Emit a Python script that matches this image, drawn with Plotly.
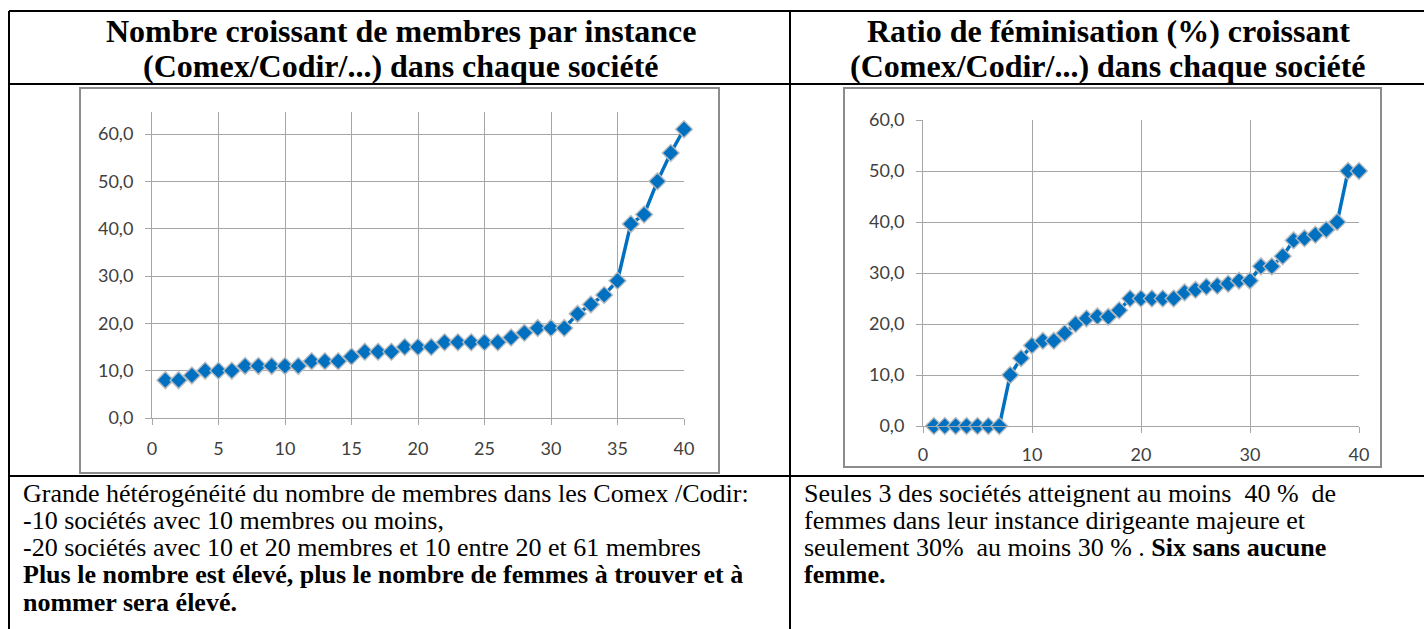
import plotly.graph_objects as go

W, H = 1424, 629

# ---- data ----
companies = list(range(1, 41))
members = [8, 8, 9, 10, 10, 10, 11, 11, 11, 11, 11, 12, 12, 12, 13, 14, 14, 14, 15, 15,
           15, 16, 16, 16, 16, 16, 17, 18, 19, 19, 19, 22, 24, 26, 29, 41, 43, 50, 56, 61]
fem_ratio = [0, 0, 0, 0, 0, 0, 0, 10, 13.3, 15.8, 16.7, 16.7, 18.2, 20, 21.1, 21.5, 21.4, 22.7, 25, 25,
             25, 25, 25, 26.2, 26.7, 27.3, 27.5, 27.9, 28.5, 28.5, 31.3, 31.3, 33.3, 36.4, 36.8, 37.5, 38.5, 40, 50, 50]

left_title = ["Nombre croissant de membres par instance", "(Comex/Codir/...) dans chaque société"]
right_title = ["Ratio de féminisation (%) croissant", "(Comex/Codir/...) dans chaque société"]
left_text = [
    "Grande hétérogénéité du nombre de membres dans les Comex /Codir:",
    "-10 sociétés avec 10 membres ou moins,",
    "-20 sociétés avec 10 et 20 membres et 10 entre 20 et 61 membres",
    "<b>Plus le nombre est élevé, plus le nombre de femmes à trouver et à</b>",
    "<b>nommer sera élevé.</b>",
]
right_text = [
    "Seules 3 des sociétés atteignent au moins \u00a040 % \u00a0de",
    "femmes dans leur instance dirigeante majeure et",
    "seulement 30% \u00a0au moins 30 % . <b>Six sans aucune</b>",
    "<b>femme.</b>",
]

BLUE = "#0070C0"
GRID = "#A6A6A6"
TICKFONT = dict(family="Lato, Open Sans, sans-serif", size=18, color="#404040")


def px(x):
    return max(0.0, min(1.0, x / W))


def py(y):
    return max(0.0, min(1.0, 1 - y / H))


fig = go.Figure()

marker = dict(symbol="diamond", size=13, color=BLUE, line=dict(color="rgba(190,190,190,0.9)", width=1.5))
fig.add_trace(go.Scatter(x=companies, y=members, mode="lines+markers", line=dict(color=BLUE, width=3.5),
                         marker=marker, xaxis="x", yaxis="y", showlegend=False, cliponaxis=False))
fig.add_trace(go.Scatter(x=companies, y=fem_ratio, mode="lines+markers", line=dict(color=BLUE, width=3.5),
                         marker=marker, xaxis="x2", yaxis="y2", showlegend=False, cliponaxis=False))

ax_common = dict(showgrid=True, gridcolor=GRID, gridwidth=1, zeroline=False, showline=True,
                 linecolor=GRID, linewidth=1, ticks="outside", ticklen=6, tickcolor=GRID,
                 tickfont=TICKFONT, fixedrange=True, automargin=False)

# left chart: 0 at y=418, 60 at y=134, top at y=112
ymax_left = 60 * (418 - 112) / (418 - 134)
fig.update_layout(
    xaxis=dict(domain=[px(152), px(684)], range=[0, 40], dtick=5, tick0=0, anchor="y",
               ticklabelstandoff=8, **ax_common),
    yaxis=dict(domain=[py(418), py(112)], range=[0, ymax_left], tickvals=[0, 10, 20, 30, 40, 50, 60],
               tickformat=".1f", anchor="x", ticklabelstandoff=8, **ax_common),
    xaxis2=dict(domain=[px(923), px(1359)], range=[0, 40], dtick=10, tick0=0, anchor="y2",
                ticklabelstandoff=6, **ax_common),
    yaxis2=dict(domain=[py(426), py(120)], range=[0, 60], tickvals=[0, 10, 20, 30, 40, 50, 60],
                tickformat=".1f", anchor="x2", ticklabelstandoff=8, **ax_common),
)

shapes = []
BLACK = dict(color="black", width=2)
# table lines
shapes.append(dict(type="line", xref="paper", yref="paper", x0=px(9), x1=1, y0=py(11), y1=py(11), line=BLACK))
shapes.append(dict(type="line", xref="paper", yref="paper", x0=px(9), x1=1, y0=py(84), y1=py(84), line=BLACK))
shapes.append(dict(type="line", xref="paper", yref="paper", x0=px(9), x1=1, y0=py(476), y1=py(476), line=BLACK))
shapes.append(dict(type="line", xref="paper", yref="paper", x0=px(9), x1=px(9), y0=py(11), y1=0, line=BLACK))
shapes.append(dict(type="line", xref="paper", yref="paper", x0=px(790), x1=px(790), y0=py(11), y1=0, line=BLACK))
# chart frames
FRAME = dict(color="#8C8C8C", width=2)
shapes.append(dict(type="rect", xref="paper", yref="paper", x0=px(80), x1=px(719), y0=py(473), y1=py(88), line=FRAME))
shapes.append(dict(type="rect", xref="paper", yref="paper", x0=px(844), x1=px(1381), y0=py(467), y1=py(88), line=FRAME))

annotations = []
TITLE_FONT = dict(family="Liberation Serif, Times New Roman, serif", size=32, color="black")
for i, t in enumerate(left_title):
    annotations.append(dict(text="<b>%s</b>" % t, x=px(401), y=py(31 + 35 * i), xref="paper", yref="paper",
                            xanchor="center", yanchor="middle", showarrow=False, font=TITLE_FONT))
for i, t in enumerate(right_title):
    annotations.append(dict(text="<b>%s</b>" % t, x=px(1108), y=py(31 + 35 * i), xref="paper", yref="paper",
                            xanchor="center", yanchor="middle", showarrow=False, font=TITLE_FONT))
BODY_FONT = dict(family="Liberation Serif, Times New Roman, serif", size=26, color="black")
for i, t in enumerate(left_text):
    annotations.append(dict(text=t, x=px(21), y=py(493 + 27.3 * i), xref="paper", yref="paper",
                            xanchor="left", yanchor="middle", showarrow=False, font=BODY_FONT))
for i, t in enumerate(right_text):
    annotations.append(dict(text=t, x=px(802), y=py(493 + 27.3 * i), xref="paper", yref="paper",
                            xanchor="left", yanchor="middle", showarrow=False, font=BODY_FONT))

fig.update_layout(width=W, height=H, margin=dict(l=0, r=0, t=0, b=0, autoexpand=False), paper_bgcolor="white",
                  plot_bgcolor="white", separators=", ", shapes=shapes, annotations=annotations)

fig.write_html("out.html", config={"displayModeBar": False},
               post_script="document.body.style.margin='0';document.body.style.overflow='hidden';")
